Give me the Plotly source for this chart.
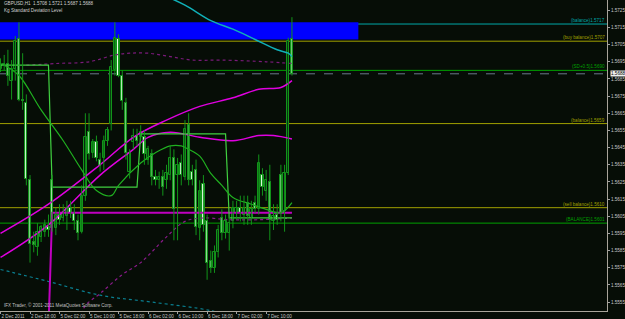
import plotly.graph_objects as go

# ---------------- data ----------------
title_text = "GBPUSD,H1  1.5708 1.5721 1.5687 1.5688"
subtitle_text = "Kg Standard Deviation Level"
copyright_text = "IFX Trader, © 2001-2011 MetaQuotes Software Corp."

x_tick_idx = [0, 8, 16, 24, 32, 40, 48, 56, 64, 72]
x_tick_text = ["2 Dec 2011", "2 Dec 18:00", "5 Dec 02:00", "5 Dec 10:00", "5 Dec 18:00",
               "6 Dec 02:00", "6 Dec 10:00", "6 Dec 18:00", "7 Dec 02:00", "7 Dec 10:00"]
y_tick_vals = [1.5555, 1.5565, 1.5575, 1.5585, 1.5595, 1.5605, 1.5615, 1.5625, 1.5635,
               1.5645, 1.5655, 1.5665, 1.5675, 1.5685, 1.5695, 1.5705, 1.5715, 1.5725]

bars = list(range(80))
opens = [1.5691,1.5694,1.5694,1.5684,1.5691,1.5708,1.5673,1.5671,1.5626,1.5590,
         1.5587,1.5593,1.5596,1.5599,1.5626,1.5598,1.5606,1.5604,1.5605,1.5610,
         1.5607,1.5602,1.5596,1.5617,1.5654,1.5642,1.5648,1.5638,1.5639,1.5649,
         1.5659,1.5690,1.5708,1.5687,1.5671,1.5631,1.5648,1.5652,1.5651,1.5651,
         1.5638,1.5641,1.5628,1.5626,1.5628,1.5626,1.5629,1.5639,1.5629,1.5636,
         1.5628,1.5658,1.5631,1.5632,1.5598,1.5624,1.5602,1.5579,1.5575,1.5584,
         1.5604,1.5595,1.5595,1.5602,1.5607,1.5610,1.5606,1.5613,1.5604,1.5613,
         1.5609,1.5629,1.5620,1.5625,1.5602,1.5606,1.5629,1.5608,1.5630,1.5708]
highs = [1.5697,1.5699,1.5702,1.5696,1.5710,1.5718,1.5700,1.5676,1.5629,1.5596,
         1.5601,1.5600,1.5603,1.5606,1.5629,1.5610,1.5612,1.5612,1.5614,1.5614,
         1.5612,1.5606,1.5623,1.5665,1.5665,1.5650,1.5652,1.5642,1.5652,1.5657,
         1.5696,1.5718,1.5711,1.5690,1.5674,1.5644,1.5656,1.5656,1.5658,1.5655,
         1.5646,1.5644,1.5632,1.5631,1.5632,1.5635,1.5646,1.5644,1.5639,1.5641,
         1.5661,1.5665,1.5635,1.5638,1.5626,1.5629,1.5606,1.5585,1.5588,1.5600,
         1.5609,1.5606,1.5606,1.5614,1.5614,1.5617,1.5617,1.5617,1.5614,1.5617,
         1.5641,1.5633,1.5632,1.5635,1.5612,1.5612,1.5635,1.5635,1.5709,1.5721]
lows = [1.5689,1.5690,1.5681,1.5673,1.5684,1.5672,1.5667,1.5623,1.5578,1.5584,
        1.5582,1.5590,1.5593,1.5593,1.5596,1.5594,1.5600,1.5602,1.5597,1.5604,
        1.5597,1.5591,1.5595,1.5614,1.5638,1.5639,1.5637,1.5631,1.5632,1.5646,
        1.5655,1.5687,1.5686,1.5667,1.5638,1.5627,1.5644,1.5646,1.5648,1.5635,
        1.5635,1.5623,1.5623,1.5621,1.5617,1.5621,1.5626,1.5591,1.5591,1.5623,
        1.5626,1.5623,1.5623,1.5594,1.5591,1.5596,1.5568,1.5572,1.5572,1.5581,
        1.5591,1.5592,1.5585,1.5598,1.5603,1.5602,1.5600,1.5600,1.5600,1.5607,
        1.5606,1.5617,1.5614,1.5591,1.5597,1.5600,1.5602,1.5596,1.5629,1.5687]
closes = [1.5694,1.5693,1.5687,1.5691,1.5707,1.5673,1.5672,1.5627,1.5589,1.5588,
          1.5596,1.5599,1.5600,1.5597,1.5598,1.5606,1.5603,1.5607,1.5610,1.5607,
          1.5602,1.5595,1.5617,1.5651,1.5641,1.5648,1.5639,1.5634,1.5649,1.5655,
          1.5692,1.5709,1.5687,1.5672,1.5642,1.5642,1.5652,1.5649,1.5654,1.5641,
          1.5644,1.5628,1.5626,1.5628,1.5622,1.5630,1.5639,1.5609,1.5635,1.5629,
          1.5656,1.5626,1.5626,1.5599,1.5620,1.5600,1.5578,1.5575,1.5584,1.5597,
          1.5595,1.5602,1.5601,1.5610,1.5610,1.5607,1.5610,1.5605,1.5609,1.5609,
          1.5636,1.5622,1.5626,1.5603,1.5605,1.5603,1.5607,1.5630,1.5707,1.5688]

# moving average (green curve)
ma_idx = [1, 5, 11, 17, 22, 26, 30, 32, 38, 42, 46, 49, 51, 54, 57, 60, 63, 68, 72, 76, 79]
ma_val = [1.5693, 1.5687, 1.5667, 1.5649, 1.5632, 1.5620, 1.5617, 1.5623, 1.5636, 1.5642,
          1.5646, 1.5646, 1.5644, 1.5640, 1.5630, 1.5623, 1.5616, 1.5612, 1.5609, 1.5607, 1.5613]

# magenta bands (solid)
mag_up_idx = [0, 13, 27, 36, 45, 54, 63, 70, 76, 79]
mag_up_val = [1.5595, 1.5612, 1.5635, 1.5651, 1.5661, 1.5669, 1.5674, 1.5679, 1.5680, 1.5684]
mag_mid_idx = [0, 13, 27, 36, 40, 46, 54, 63, 70, 74, 79]
mag_mid_val = [1.5581, 1.5600, 1.5629, 1.5644, 1.5651, 1.5654, 1.5651, 1.5649, 1.5652, 1.5652, 1.5650]

# dotted magenta bands
dmag_up_idx = [7, 15, 24, 31, 35, 40, 46, 52, 60, 72, 79]
dmag_up_val = [1.5693, 1.5694, 1.5695, 1.5699, 1.5700, 1.5700, 1.5698, 1.5696, 1.5696, 1.5695, 1.5694]
dmag_lo_idx = [22, 23, 27, 33, 38, 45, 50, 55, 62, 70, 79]
dmag_lo_val = [1.5548, 1.5553, 1.5560, 1.5571, 1.5578, 1.5593, 1.5602, 1.5604, 1.5603, 1.5603, 1.5604]

# cyan bands
cyan_up_idx = [44, 50, 57, 63, 69, 75, 78, 79]
cyan_up_val = [1.5734, 1.5728, 1.5719, 1.5714, 1.5708, 1.5702, 1.5700, 1.5698]
cyan_lo_idx = [0, 13, 27, 41, 57, 65]
cyan_lo_val = [1.5574, 1.5567, 1.5559, 1.5555, 1.5550, 1.5545]

# step lines
step_g_idx = [0, 13, 14, 37, 38, 61, 62, 79]
step_g_val = [1.5693, 1.5693, 1.5622, 1.5622, 1.5653, 1.5653, 1.5604, 1.5604]
step_m_idx = [0, 13, 14, 79]
step_m_val = [1.5540, 1.5540, 1.5607, 1.5607]

# blue zone rectangle
zone_idx = [-0.2, 97]
zone_val = [1.5708, 1.5718]

# level lines
level_names = ["(balance)", "(buy balance)", "(SD+0.5)", "(balance)", "(sell balance)", "(BALANCE)"]
level_vals = [1.5717, 1.5707, 1.5690, 1.5659, 1.5610, 1.5601]
level_colors = ["#00a8a8", "#a0a000", "#00a000", "#a0a000", "#a0a000", "#00a000"]
bid_price = 1.5688

# ---------------- figure ----------------
BG = "#060d06"
FONT = "Liberation Sans"
FS = 4.6
WICK = "#12941a"

fig = go.Figure()

fig.add_shape(type="rect", xref="x", yref="y", x0=zone_idx[0], x1=zone_idx[1],
              y0=zone_val[0], y1=zone_val[1], fillcolor="#0000ff", line=dict(width=0), layer="below")

for name, v, c in zip(level_names, level_vals, level_colors):
    fig.add_shape(type="line", xref="paper", yref="y", x0=0, x1=1, y0=v, y1=v,
                  line=dict(color=c, width=1), layer="below")
    fig.add_annotation(xref="paper", yref="y", x=1, y=v, text=f"{name}{v:.4f}",
                       showarrow=False, xanchor="right", yanchor="bottom", yshift=-1,
                       font=dict(family=FONT, size=FS, color=c))
fig.add_shape(type="line", xref="paper", yref="y", x0=0, x1=1, y0=bid_price, y1=bid_price,
              line=dict(color="#6a7a8a", width=1, dash="dash"), layer="below")

def add_line(xs, ys, color, width=1, dash="solid", shape="spline"):
    fig.add_trace(go.Scatter(x=xs, y=ys, mode="lines", line=dict(color=color, width=width, dash=dash, shape=shape),
                             hoverinfo="skip", showlegend=False))

add_line(dmag_up_idx, dmag_up_val, "#7a1a7a", 1.2, "dot")
add_line(dmag_lo_idx, dmag_lo_val, "#8a1a8a", 1.2, "dot")
add_line(cyan_lo_idx, cyan_lo_val, "#0a7f90", 1.2, "dot")
add_line(step_m_idx, step_m_val, "#c000c0", 2, shape="linear")
add_line(mag_mid_idx, mag_mid_val, "#e000e0", 1.5)
add_line(mag_up_idx, mag_up_val, "#e000e0", 1.5)
add_line(step_g_idx, step_g_val, "#40d040", 1.2, shape="linear")
add_line(ma_idx, ma_val, "#20b020", 1.2)

# candle wicks
wx, wy = [], []
for i, h, l in zip(bars, highs, lows):
    wx += [i, i, None]
    wy += [l, h, None]
fig.add_trace(go.Scatter(x=wx, y=wy, mode="lines", line=dict(color=WICK, width=1),
                         hoverinfo="skip", showlegend=False))

# candle bodies
body_base = [min(o, c) for o, c in zip(opens, closes)]
body_len = [max(abs(c - o), 0.00003) for o, c in zip(opens, closes)]
body_fill = ["#06160e" if c >= o else "#eaffea" for o, c in zip(opens, closes)]
fig.add_trace(go.Bar(x=bars, y=body_len, base=body_base, width=0.62,
                     marker=dict(color=body_fill, line=dict(color=WICK, width=1)),
                     hoverinfo="skip", showlegend=False))

add_line(cyan_up_idx, cyan_up_val, "#10b0b8", 1.5)

fig.add_annotation(xref="paper", yref="y", x=1, y=bid_price, text=f"{bid_price:.4f}",
                   showarrow=False, xanchor="left", xshift=3, bgcolor="#f0f0f0",
                   borderpad=0, font=dict(family=FONT, size=FS, color="#000000"))

fig.add_annotation(xref="paper", yref="paper", x=0.004, y=0.988, text=title_text, showarrow=False,
                   xanchor="left", yanchor="middle", font=dict(family=FONT, size=FS, color="#d0d0d0"))
fig.add_annotation(xref="paper", yref="paper", x=0.004, y=0.966, text=subtitle_text, showarrow=False,
                   xanchor="left", yanchor="middle", font=dict(family=FONT, size=FS, color="#d0d0d0"))
fig.add_annotation(xref="paper", yref="paper", x=0.003, y=0.02, text=copyright_text, showarrow=False,
                   xanchor="left", yanchor="middle", font=dict(family=FONT, size=FS, color="#c0c0c0"))

fig.update_layout(
    width=625, height=319,
    margin=dict(l=0, r=18, t=0, b=8),
    paper_bgcolor=BG, plot_bgcolor=BG,
    showlegend=False, bargap=0, barmode="overlay",
    xaxis=dict(range=[-0.14, 164.4], tickvals=x_tick_idx, ticktext=x_tick_text, tickangle=0,
               ticklabelposition="outside right", ticks="outside", ticklen=2, tickcolor="#a0a0a0",
               showgrid=False, zeroline=False, showline=True, linecolor="#a8a49a", linewidth=1,
               automargin=False, tickfont=dict(family=FONT, size=FS, color="#c8c8c8"),
               fixedrange=True),
    yaxis=dict(range=[1.55498, 1.5731], side="right", tickvals=y_tick_vals,
               ticktext=[f"{v:.4f}" for v in y_tick_vals], automargin=False,
               ticks="outside", ticklen=2, tickcolor="#a0a0a0",
               showgrid=False, zeroline=False, showline=True, linecolor="#a8a49a", linewidth=1,
               tickfont=dict(family=FONT, size=FS, color="#c8c8c8"), fixedrange=True),
)

fig.write_html("out.html")
